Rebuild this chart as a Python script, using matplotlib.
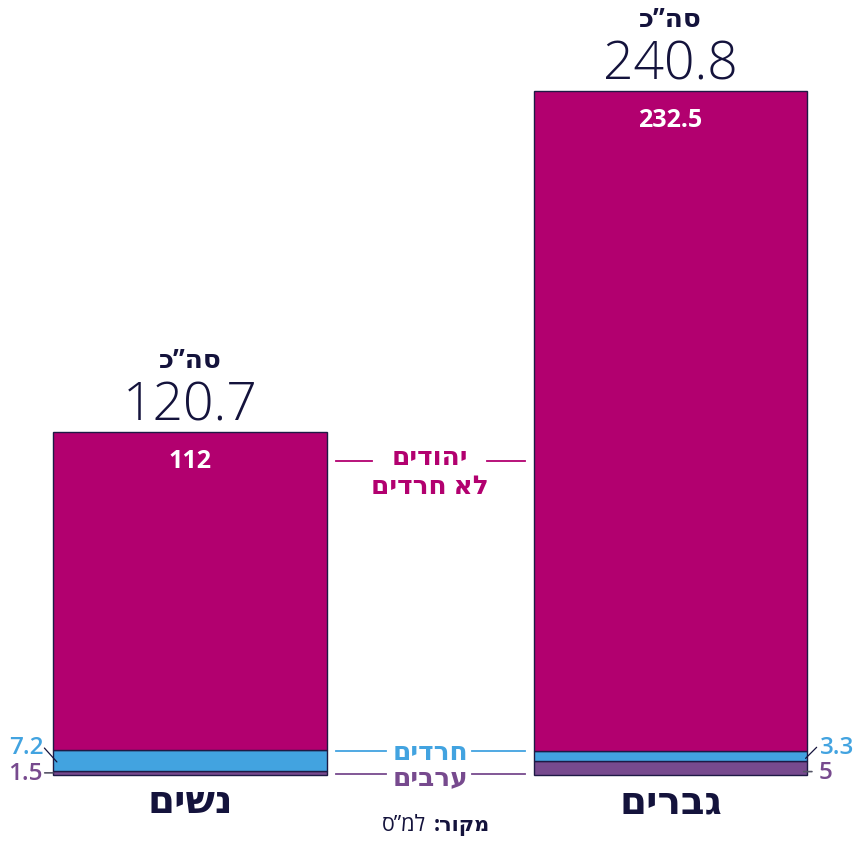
import matplotlib
matplotlib.use("Agg")
import matplotlib.pyplot as plt

def rtl(s):
    return s[::-1]

groups = ["נשים", "גברים"]
arabs = [1.5, 5]
haredim = [7.2, 3.3]
jews = [112, 232.5]
totals = [120.7, 240.8]

C_JEW = "#B2006F"
C_HAR = "#42A3E0"
C_ARB = "#774A8E"
NAVY = "#14133C"
EDGE = "#1E1A45"
GREY = "#555566"

HEB = ["Open Sans", "DejaVu Sans"]
NUM = ["Open Sans", "DejaVu Sans"]

fig = plt.figure(figsize=(8.56, 8.41), dpi=100)
ax = fig.add_axes([0, 0, 1, 1])
ax.set_xlim(-0.3954, 1.386)
ax.set_ylim(-23.24, 272.9)
ax.axis("off")

x = [0, 1]
w = 0.570
ax.bar(x, arabs, width=w, color=C_ARB, edgecolor=EDGE, linewidth=1)
ax.bar(x, haredim, width=w, bottom=arabs, color=C_HAR, edgecolor=EDGE, linewidth=1)
b2 = [a + h for a, h in zip(arabs, haredim)]
ax.bar(x, jews, width=w, bottom=b2, color=C_JEW, edgecolor=EDGE, linewidth=1)

for i in range(2):
    t = totals[i]
    ax.annotate(f"{jews[i]:g}", (x[i], t), xytext=(0, -21), textcoords="offset points",
                ha="center", va="center", color="white", fontsize=18, fontweight="bold",
                family=HEB)
    ax.annotate(f"{t:g}", (x[i], t), xytext=(0, 8.5), textcoords="offset points",
                ha="center", va="baseline", color=NAVY, fontsize=38.5, fontweight="light",
                family=NUM)
    ax.annotate(rtl("סה”כ"), (x[i], t), xytext=(0, 46), textcoords="offset points",
                ha="center", va="baseline", color=NAVY, fontsize=19, fontweight="bold",
                family=HEB)
    ax.annotate(rtl(groups[i]), (x[i], 0), xytext=(0, -20), textcoords="offset points",
                ha="center", va="center", color=NAVY, fontsize=28, fontweight="bold",
                family=HEB)

# middle legend labels
mid = 0.5
yj = totals[0] - 10.3
ax.text(mid, yj + 1.4, rtl("יהודים"), ha="center", va="center", color=C_JEW,
        fontsize=19, fontweight="bold", family=HEB)
ax.text(mid, yj - 8.8, rtl("לא חרדים"), ha="center", va="center", color=C_JEW,
        fontsize=19, fontweight="bold", family=HEB)
ax.plot([0.304, 0.379], [yj, yj], color=C_JEW, lw=1.3)
ax.plot([0.618, 0.697], [yj, yj], color=C_JEW, lw=1.3)

yh = 8.3
ax.text(mid, yh - 0.3, rtl("חרדים"), ha="center", va="center", color=C_HAR,
        fontsize=19, fontweight="bold", family=HEB)
ax.plot([0.304, 0.408], [yh, yh], color=C_HAR, lw=1.3)
ax.plot([0.587, 0.697], [yh, yh], color=C_HAR, lw=1.3)

ya = 0.4
ax.text(mid, ya - 1.4, rtl("ערבים"), ha="center", va="center", color=C_ARB,
        fontsize=19, fontweight="bold", family=HEB)
ax.plot([0.304, 0.408], [ya, ya], color=C_ARB, lw=1.3)
ax.plot([0.587, 0.697], [ya, ya], color=C_ARB, lw=1.3)

# side value labels
lx = x[0] - w / 2
rx = x[1] + w / 2
ax.annotate("", xy=(lx + 0.008, arabs[0] + haredim[0] / 2 - 0.5), xytext=(-9, 10),
            textcoords="offset points",
            arrowprops=dict(arrowstyle="-", color=NAVY, lw=0.9, shrinkA=0, shrinkB=0))
ax.annotate(f"{haredim[0]:g}", (lx, arabs[0] + haredim[0] / 2), xytext=(-19, 9),
            textcoords="offset points", ha="center", va="center", color=C_HAR,
            fontsize=17.5, fontweight="semibold", family=HEB)
ax.annotate("", xy=(lx, arabs[0] / 2), xytext=(-6, 0), textcoords="offset points",
            arrowprops=dict(arrowstyle="-", color=GREY, lw=1.2, shrinkA=0, shrinkB=0))
ax.annotate(f"{arabs[0]:g}", (lx, arabs[0] / 2), xytext=(-20, -1),
            textcoords="offset points", ha="center", va="center", color=C_ARB,
            fontsize=17.5, fontweight="semibold", family=HEB)
ax.annotate("", xy=(rx - 0.004, arabs[1] + haredim[1] / 2 - 0.8), xytext=(8, 8),
            textcoords="offset points",
            arrowprops=dict(arrowstyle="-", color=NAVY, lw=0.9, shrinkA=0, shrinkB=0))
ax.annotate(f"{haredim[1]:g}", (rx, arabs[1] + haredim[1] / 2), xytext=(9, 6),
            textcoords="offset points", ha="left", va="center", color=C_HAR,
            fontsize=17.5, fontweight="semibold", family=HEB)
ax.annotate("", xy=(rx - 0.008, 1.2), xytext=(6, 0), textcoords="offset points",
            arrowprops=dict(arrowstyle="-", color=GREY, lw=1.2, shrinkA=0, shrinkB=0))
ax.annotate(f"{arabs[1]:g}", (rx, 1.2), xytext=(8, -1),
            textcoords="offset points", ha="left", va="center", color=C_ARB,
            fontsize=17.5, fontweight="semibold", family=HEB)

# source
fig.text(0.573, 0.012, rtl("מקור:"), ha="right", va="baseline", color=NAVY,
         fontsize=15, fontweight="bold", family=HEB)
fig.text(0.498, 0.012, rtl("למ”ס"), ha="right", va="baseline", color=NAVY,
         fontsize=15.5, family=HEB)

fig.savefig("out.png", dpi=100)
